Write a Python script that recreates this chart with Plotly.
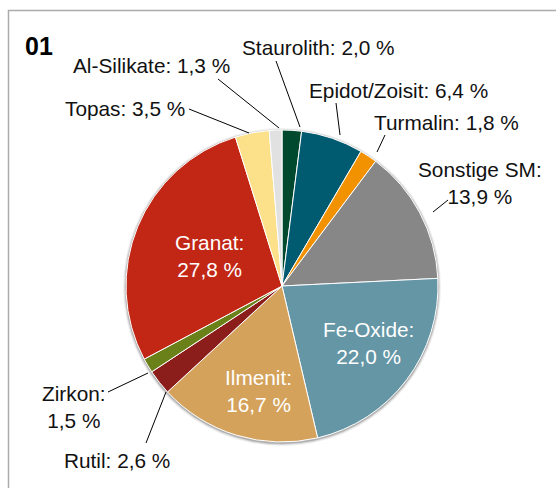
import plotly.graph_objects as go

W, H = 556, 488

labels = ["Staurolith", "Epidot/Zoisit", "Turmalin", "Sonstige SM", "Fe-Oxide",
          "Ilmenit", "Rutil", "Zirkon", "Granat", "Topas", "Al-Silikate"]
values = [2.0, 6.4, 1.8, 13.9, 22.0, 16.7, 2.6, 1.5, 27.8, 3.5, 1.3]
colors = ["#00492E", "#005A70", "#F39200", "#878787", "#6496A6",
          "#D4A25A", "#8B1D1A", "#6A8019", "#C22615", "#FDE08A", "#E1E1E1"]

# label layout: (text centre px x, px y, line break?, inside?)
label_pos = {
    "Staurolith":    (318, 47, False, False),
    "Al-Silikate":   (151, 66, False, False),
    "Topas":         (125, 108, False, False),
    "Epidot/Zoisit": (398, 90, False, False),
    "Turmalin":      (446, 123, False, False),
    "Sonstige SM":   (480, 183, True, False),
    "Zirkon":        (74, 407, True, False),
    "Rutil":         (117, 460, False, False),
    "Granat":        (209, 256, True, True),
    "Fe-Oxide":      (368, 343, True, True),
    "Ilmenit":       (258, 391, True, True),
}
# leader lines (px): from label to slice edge
leaders = {
    "Al-Silikate":   ((218, 79), (279, 128)),
    "Topas":         ((189, 109), (249, 133)),
    "Staurolith":    ((276, 61), (300, 127)),
    "Epidot/Zoisit": ((336, 103), (340, 135)),
    "Turmalin":      ((385, 135), (377, 152)),
    "Sonstige SM":   ((448, 200), (433, 212)),
    "Zirkon":        ((108, 392), (148, 373)),
    "Rutil":         ((146, 443), (166, 392)),
}

def px(x, y):
    return x / W, 1 - y / H

def fmt(v):
    return f"{v:.1f}".replace(".", ",") + " %"

cx, cy, r = 282, 286, 156

fig = go.Figure()
fig.add_trace(go.Pie(
    labels=labels, values=values, sort=False, direction="clockwise", rotation=0,
    marker=dict(colors=colors, line=dict(color="white", width=1)),
    textinfo="none", hoverinfo="label+percent", showlegend=False,
    domain=dict(x=[(cx - r) / W, (cx + r) / W], y=[1 - (cy + r) / H, 1 - (cy - r) / H]),
))

shapes = []
# frame
shapes.append(dict(type="rect", xref="paper", yref="paper",
                   x0=8.5 / W, x1=1.2, y0=-0.2, y1=1 - 10.5 / H,
                   line=dict(color="#ABABAB", width=1.5), layer="below"))
# soft shadow around pie
for dr, op in [(3, 0.06), (2, 0.1), (1, 0.18)]:
    x0, y0 = px(cx - r - dr, cy - r - dr + 1)
    x1, y1 = px(cx + r + dr, cy + r + dr + 1)
    shapes.append(dict(type="circle", xref="paper", yref="paper",
                       x0=x0, x1=x1, y0=y1, y1=y0,
                       fillcolor=f"rgba(0,0,0,{op})", line=dict(width=0), layer="below"))
for name, (a, b) in leaders.items():
    xa, ya = px(*a)
    xb, yb = px(*b)
    shapes.append(dict(type="line", xref="paper", yref="paper",
                       x0=xa, y0=ya, x1=xb, y1=yb,
                       line=dict(color="black", width=1)))

annotations = []
for name, v in zip(labels, values):
    x, y, brk, inside = label_pos[name]
    text = f"{name}:<br>{fmt(v)}" if brk else f"{name}: {fmt(v)}"
    xp, yp = px(x, y)
    annotations.append(dict(x=xp, y=yp, xref="paper", yref="paper", text=text,
                            showarrow=False, xanchor="center", yanchor="middle",
                            align="center",
                            font=dict(family="Liberation Sans, Arial", size=20.8,
                                      color="white" if inside else "#111111")))
xp, yp = px(23, 46)
annotations.append(dict(x=xp, y=yp, xref="paper", yref="paper", text="<b>01</b>",
                        showarrow=False, xanchor="left", yanchor="middle",
                        font=dict(family="Liberation Sans, Arial", size=25, color="black")))

fig.update_layout(width=W, height=H, margin=dict(l=0, r=0, t=0, b=0),
                  paper_bgcolor="white", plot_bgcolor="white",
                  shapes=shapes, annotations=annotations)

fig.write_html("out.html", config={"displayModeBar": False},
               post_script="document.body.style.margin='0';")
